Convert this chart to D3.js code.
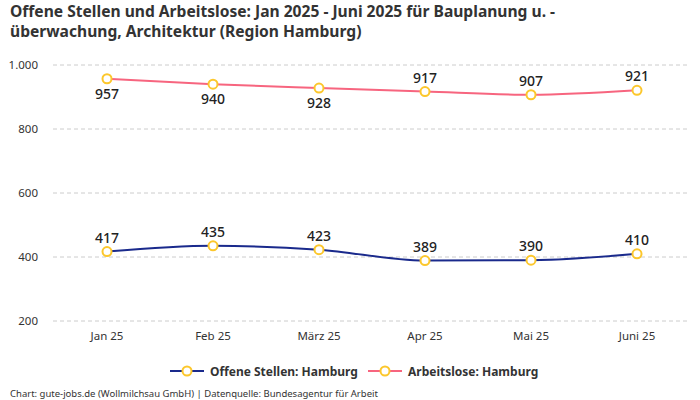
<!DOCTYPE html>
<html>
<head>
<meta charset="utf-8">
<script src="https://cdn.jsdelivr.net/npm/d3@7"></script>
<style>
  body { margin: 0; background: #fff; }
  text { font-family: "Noto Sans", sans-serif; }
</style>
</head>
<body>
<div id="chart"></div>
<script>
const months = ["Jan 25", "Feb 25", "März 25", "Apr 25", "Mai 25", "Juni 25"];
const offeneStellen = [417, 435, 423, 389, 390, 410];
const arbeitslose = [957, 940, 928, 917, 907, 921];
// label position for each point: true = above
const arbeitsloseAbove = [false, false, false, true, true, true];
const yTicks = [200, 400, 600, 800, 1000];
const titleLines = [
  "Offene Stellen und Arbeitslose: Jan 2025 - Juni 2025 für Bauplanung u. -",
  "überwachung, Architektur (Region Hamburg)"
];

const width = 700, height = 400;

const svg = d3.select("#chart")
  .append("svg")
  .attr("width", width)
  .attr("height", height);

svg.append("rect").attr("width", width).attr("height", height).attr("fill", "white");

// Title
svg.append("g")
  .selectAll("text")
  .data(titleLines)
  .join("text")
  .attr("x", 10)
  .attr("y", (d, i) => 17 + i * 20)
  .attr("font-size", 15.6)
  .attr("font-weight", 700)
  .attr("fill", "#333")
  .text(d => d);

const x = d3.scalePoint().domain(months).range([54, 690]).padding(0.5);
const y = d3.scaleLinear().domain([200, 1000]).range([321, 65]);

// grid
svg.append("g")
  .selectAll("line")
  .data(yTicks)
  .join("line")
  .attr("x1", 53)
  .attr("x2", 688)
  .attr("y1", d => y(d))
  .attr("y2", d => y(d))
  .attr("stroke", "#ccc")
  .attr("stroke-dasharray", "4,3");

// y axis labels
svg.append("g")
  .selectAll("text")
  .data(yTicks)
  .join("text")
  .attr("x", 38)
  .attr("y", d => y(d) + 4)
  .attr("text-anchor", "end")
  .attr("font-size", 11.5)
  .attr("fill", "#333")
  .text(d => d3.format(",")(d).replace(",", "."));

// x axis labels
svg.append("g")
  .selectAll("text")
  .data(months)
  .join("text")
  .attr("x", d => x(d))
  .attr("y", 340)
  .attr("text-anchor", "middle")
  .attr("font-size", 11.5)
  .attr("fill", "#333")
  .text(d => d);

const line = d3.line()
  .x((d, i) => x(months[i]))
  .y(d => y(d))
  .curve(d3.curveMonotoneX);

const series = [
  { name: "Offene Stellen: Hamburg", values: offeneStellen, color: "#1a2a8c", above: months.map(() => true) },
  { name: "Arbeitslose: Hamburg", values: arbeitslose, color: "#f7657f", above: arbeitsloseAbove }
];

series.forEach(s => {
  svg.append("path")
    .datum(s.values)
    .attr("d", line)
    .attr("fill", "none")
    .attr("stroke", s.color)
    .attr("stroke-width", 2);

  svg.append("g")
    .selectAll("circle")
    .data(s.values)
    .join("circle")
    .attr("cx", (d, i) => x(months[i]))
    .attr("cy", d => y(d))
    .attr("r", 4.5)
    .attr("fill", "white")
    .attr("stroke", "#fcc72c")
    .attr("stroke-width", 2);

  svg.append("g")
    .selectAll("text")
    .data(s.values)
    .join("text")
    .attr("x", (d, i) => x(months[i]))
    .attr("y", (d, i) => s.above[i] ? y(d) - 9 : y(d) + 20)
    .attr("text-anchor", "middle")
    .attr("font-size", 14)
    .attr("font-weight", 500)
    .attr("fill", "#222")
    .text(d => d);
});

// legend
const legend = svg.append("g");
const legendX = [170, 368];
series.forEach((s, i) => {
  const g = legend.append("g").attr("transform", `translate(${legendX[i]},371)`);
  g.append("line").attr("x1", 0).attr("x2", 34).attr("stroke", s.color).attr("stroke-width", 2);
  g.append("circle").attr("cx", 17).attr("r", 4.5).attr("fill", "white").attr("stroke", "#fcc72c").attr("stroke-width", 2);
  g.append("text").attr("x", 40).attr("y", 4.5)
    .attr("font-size", 12).attr("font-weight", 700).attr("fill", "#333")
    .text(s.name);
});

// footer
svg.append("text")
  .attr("x", 10)
  .attr("y", 397)
  .attr("font-size", 9.5)
  .attr("fill", "#333")
  .text("Chart: gute-jobs.de (Wollmilchsau GmbH) | Datenquelle: Bundesagentur für Arbeit");
</script>
</body>
</html>
